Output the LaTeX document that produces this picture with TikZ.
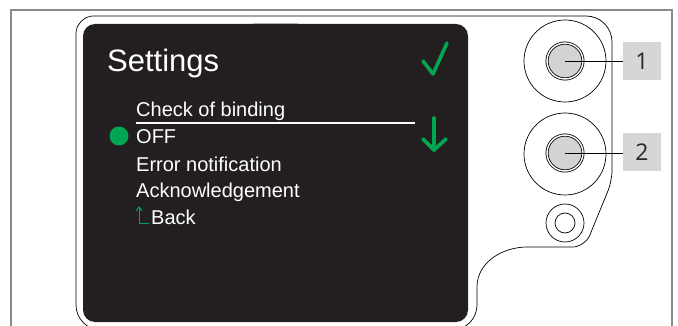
\documentclass[tikz,border=0pt]{standalone}
\usepackage{fontspec}
\setmainfont{Liberation Sans}
\newfontfamily\calloutfont{Open Sans}
\usetikzlibrary{positioning}
\definecolor{screen}{HTML}{231F20}
\definecolor{okgreen}{HTML}{00A651}
\definecolor{framegray}{HTML}{8A8A8A}
\definecolor{boxgray}{HTML}{D6D6D6}
\definecolor{knobgray}{HTML}{D3D3D3}

\begin{document}
\begin{tikzpicture}[x=1pt,y=-1pt,
  menu/.style={anchor=base west, text=white, font=\fontsize{20}{24}\selectfont},
  ring/.style={circle, draw, line width=0.7pt, minimum size=82pt},
  knob/.style={circle, draw, fill=knobgray, line width=0.8pt, double=white, double distance=1.4pt, minimum size=36pt},
  callout/.style={fill=boxgray, minimum width=38pt, minimum height=38pt, text=black!85, font=\calloutfont\fontsize{23}{26}\selectfont},
  glyph/.style={okgreen, line width=3.6pt, line cap=round, line join=round}]
\tikzstyle{every node}+=[inner sep=0pt]
\clip (0,0) rectangle (678,326);
\draw [framegray, line width=1.2pt] (11,340) -- (11,10) -- (672,10) -- (672,340);
\draw [black, line width=0.7pt] (101,330) .. controls (87.2,330) and (76,318.8) .. (76,305)
  -- (76,33) .. controls (76,23.6) and (85.4,16) .. (93,16)
  -- (586,16) .. controls (600.4,16) and (612,27.6) .. (612,42)
  -- (612,171) .. controls (612,176) and (610.1,185.7) .. (608.2,190.3)
  -- (589.5,235.9) .. controls (587.2,241.5) and (579,247) .. (573,247)
  -- (527,247) .. controls (503,247) and (477,262) .. (477,287)
  -- (477,305) .. controls (477,318.8) and (465.8,330) .. (452,330);
\fill [screen, rounded corners=12pt] (83,24) rectangle (468,322);
\draw [gray!60, line width=1pt] (253,23.5) -- (298,23.5);

\node [anchor=base west, text=white, font=\fontsize{31}{36}\selectfont] (title) at (107,72) {Settings};
\node [menu] (binding) at (136,117) {Check of binding};
\node [menu] (off) at (136,144) {OFF};
\node [menu] (errnote) at (136,172) {Error notification};
\node [menu] (ack) at (136,198) {Acknowledgement};
\node [menu] (back) at (151,225) {Back};
\draw [white, line width=1.8pt] (136,123) -- (415,123);
\node [circle, fill=okgreen, minimum size=19pt] (sel) at (119,136) {};
\draw [okgreen, line width=1pt] (149,224) -- (139,224) -- (139,207);
\draw [okgreen, line width=1pt] (136,211) -- (139,207) -- (142,211);
\draw [glyph] (423,61) -- (433,74) -- (447,43);
\draw [glyph] (434,118) -- (434,150);
\draw [glyph] (423,139) -- (434,150) -- (446,139);

\node [ring] (ring1) at (565,61) {};
\node [knob] (knob1) at (565,61) {};
\node [ring] (ring2) at (565,154) {};
\node [knob] (knob2) at (565,153) {};
\node [circle, draw, line width=0.7pt, minimum size=38pt] (ring3) at (565,223) {};
\node [circle, draw, line width=0.7pt, minimum size=20pt] (knob3) at (565,223) {};
\node [callout] (lbl1) at (642,61) {1};
\node [callout] (lbl2) at (642,152.5) {2};
\draw [black, line width=0.8pt] (knob1.center) -- (knob1.center -| lbl1.west);
\draw [black, line width=0.8pt] (knob2.center) -- (knob2.center -| lbl2.west);
\end{tikzpicture}
\end{document}
